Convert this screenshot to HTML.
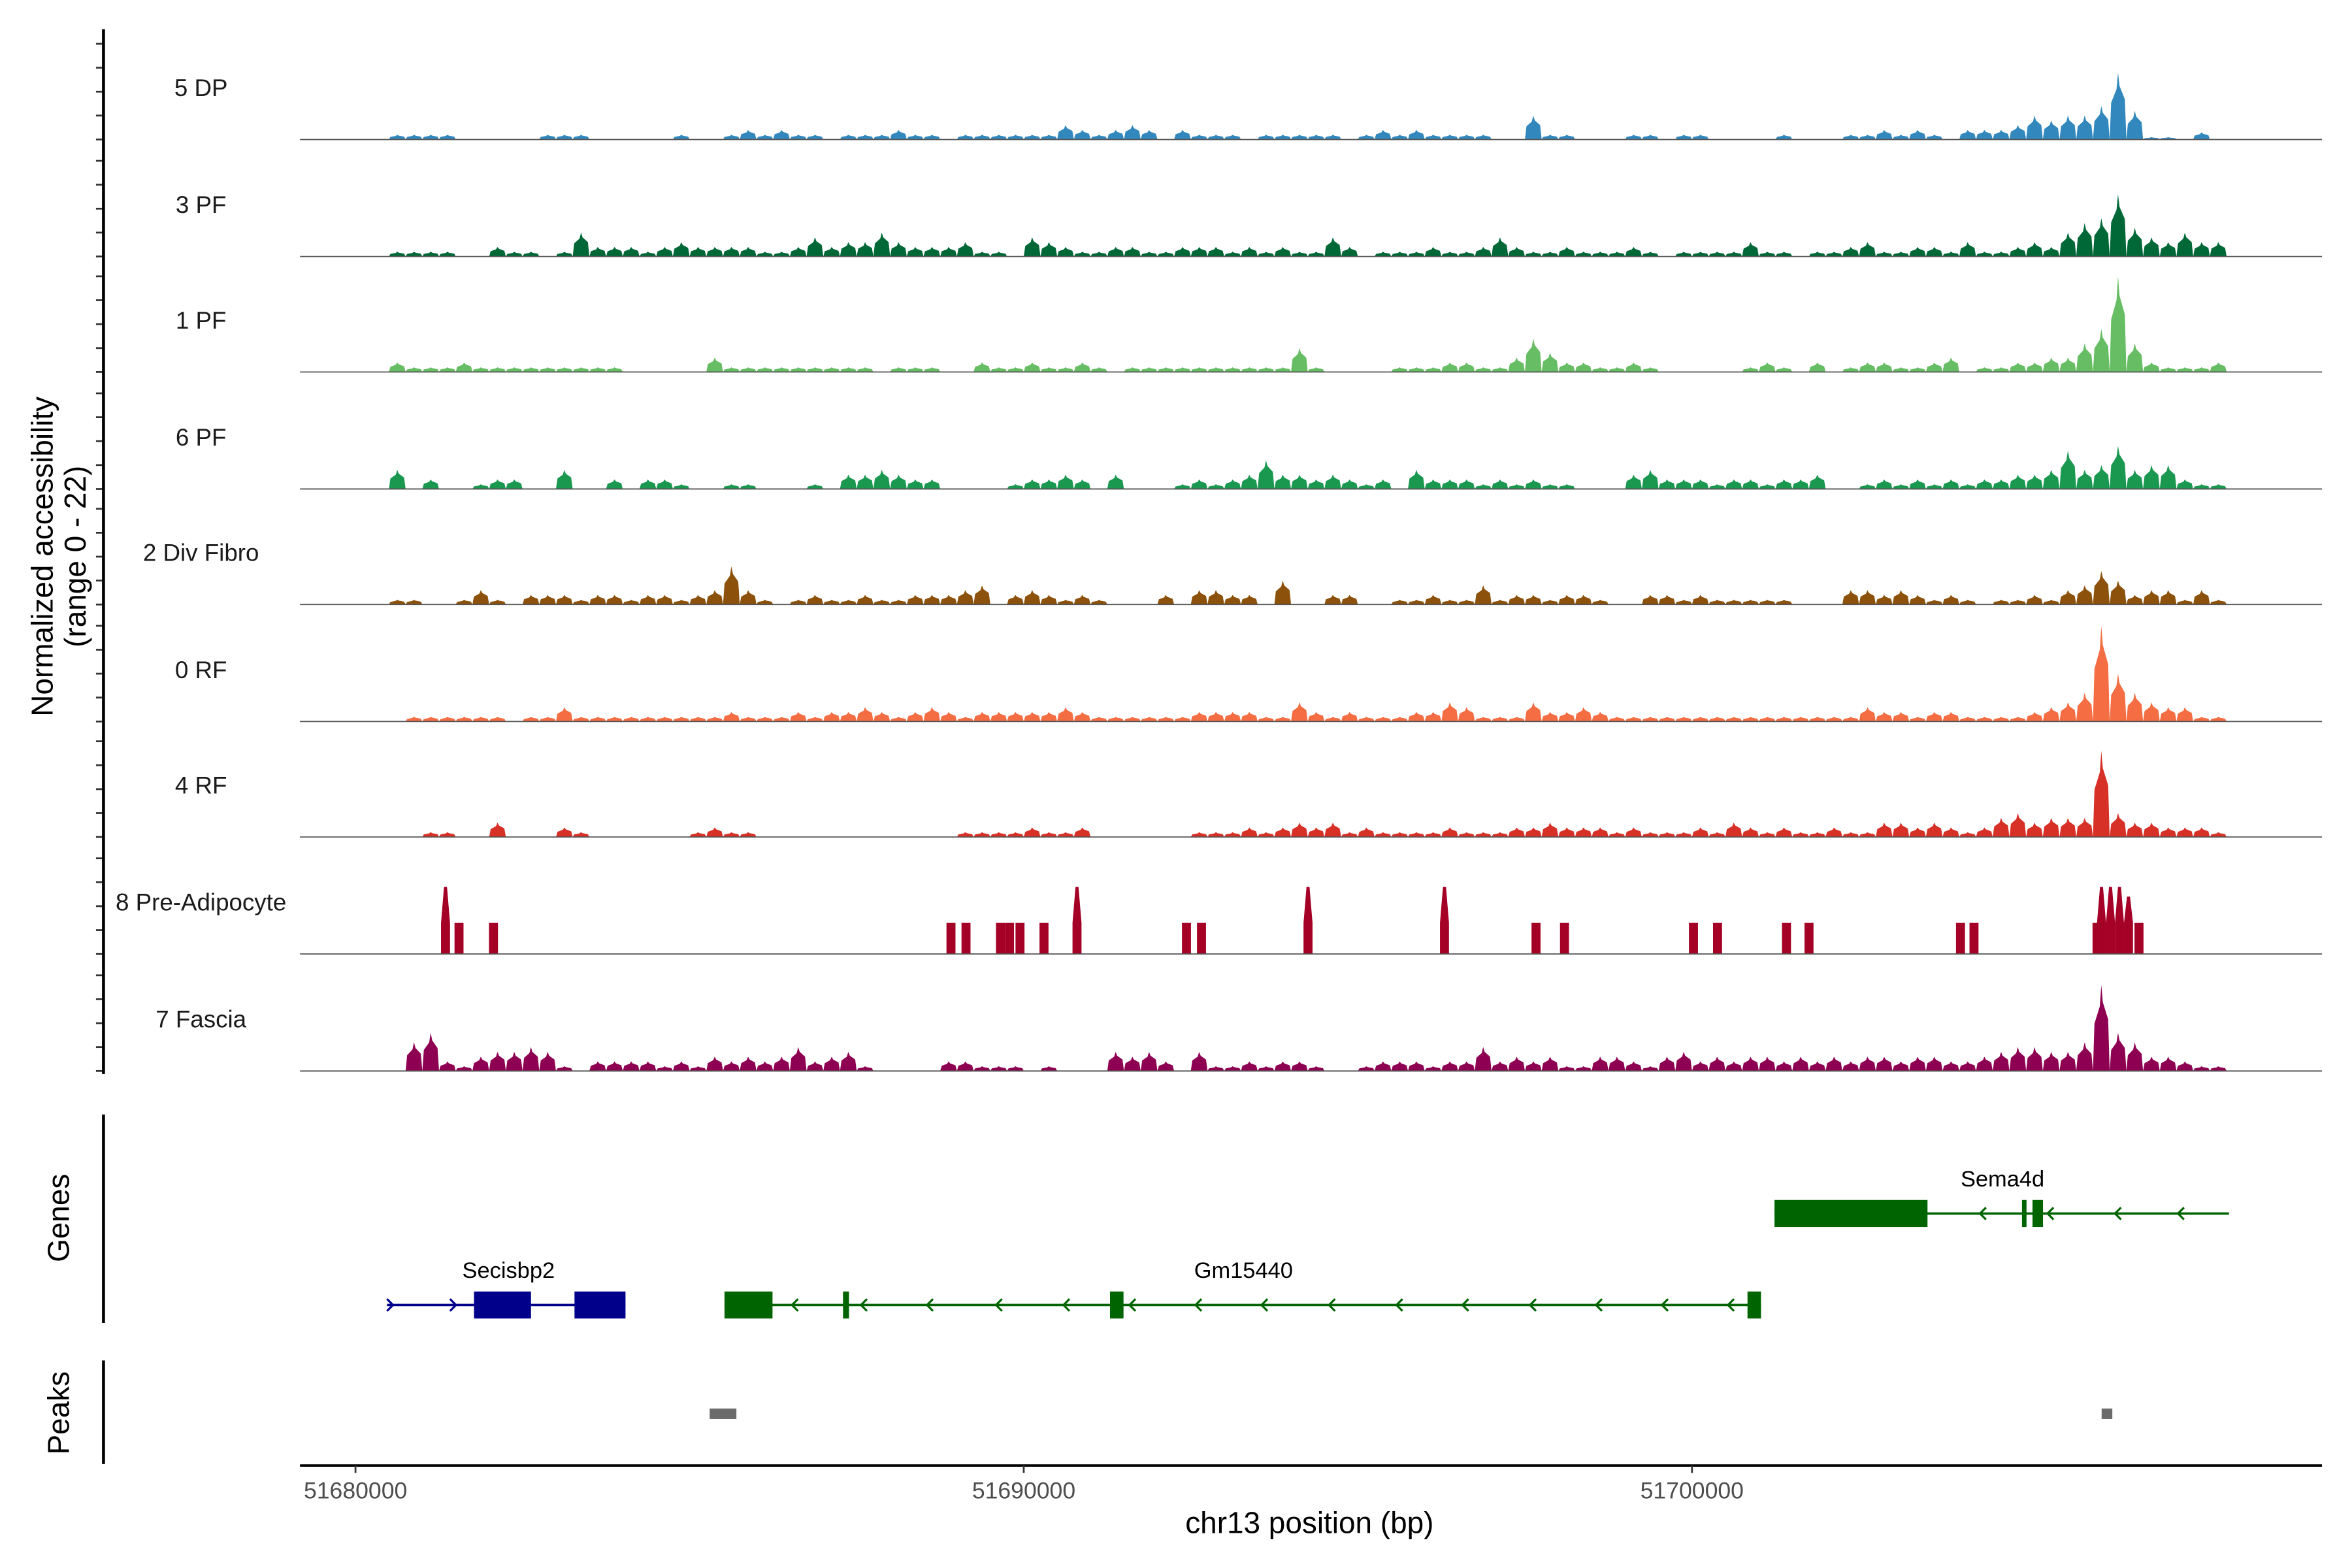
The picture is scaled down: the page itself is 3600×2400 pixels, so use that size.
<!DOCTYPE html>
<html><head><meta charset="utf-8"><style>
html,body{margin:0;padding:0;background:#fff;}
svg{display:block;font-family:"Liberation Sans",Arial,sans-serif;}
</style></head><body>
<svg id="chart" width="3600" height="2400" viewBox="0 0 1568 1045.33" xmlns="http://www.w3.org/2000/svg">
<rect x="0" y="0" width="1568" height="1046" fill="#fff"/>
<g id="tracks"></g>
<g id="genes"></g>
<g id="peaks"></g>
<g id="axes"></g>
</svg>
<script>
const binStart = 51680500;
const binSize = 250;
const trackNames = ["5 DP","3 PF","1 PF","6 PF","2 Div Fibro","0 RF","4 RF","8 Pre-Adipocyte","7 Fascia"];
const trackColors = ["#3288bd","#006837","#66bd63","#1a9850","#8c510a","#f46d43","#d73027","#a50026","#8e0152"];
const dp5 = [1,1,1,1,0,0,0,0,0,1, 1,1,0,0,0,0,0,1,0,0, 1,2,1,2,1,1,0,1,1,1, 2,1,1,0,1,1,1,1,1,1, 3,2,1,2,3,2,0,2,1,1, 1,0,1,1,1,1,1,0,1,2, 1,2,1,1,1,1,0,0,5,1, 1,0,0,0,1,1,0,1,1,0, 0,0,0,1,0,0,0,1,1,2, 1,2,1,0,2,2,2,3,5,4, 5,5,7,14,6,0.5,0.5,0,1.5,0];
const pf3 = [1,1,1,1,0,0,2,1,1,0, 1,5,2,2,2,1,2,3,2,2, 2,2,1,1,2,4,2,3,3,5, 3,2,2,2,3,1,1,0,4,3, 2,1,1,2,2,1,1,2,2,2, 1,2,1,2,1,1,4,2,0,1, 1,1,2,1,1,2,4,2,1,1, 2,1,1,1,2,1,0,1,1,1, 1,3,1,1,0,1,1,2,3,1, 1,2,2,1,3,1,1,2,3,2, 5,7,8,13,6,4,3,5,3,3];
const pf1 = [2,1,1,1,2,1,1,1,1,1, 1,1,1,1,0,0,0,0,0,3, 1,1,1,1,1,1,1,1,1,0, 1,1,1,0,0,2,1,1,2,1, 1,2,1,0,1,1,1,1,1,1, 1,1,1,1,5,1,0,0,0,0, 1,1,1,2,2,1,1,3,7,4, 2,2,1,1,2,1,0,0,0,0, 0,1,2,1,0,2,0,1,2,2, 1,1,2,3,0,1,1,2,2,3, 3,6,9,20,6,2,1,1,1,2];
const pf6 = [4,0,2,0,0,1,2,2,0,0, 4,0,0,2,0,2,2,1,0,0, 1,1,0,0,0,1,0,3,3,4, 3,2,2,0,0,0,0,1,2,2, 3,2,0,3,0,0,0,1,2,1, 2,3,6,3,3,2,3,2,1,2, 0,4,2,2,2,1,2,1,2,1, 1,0,0,0,3,4,2,2,2,1, 2,2,1,2,2,3,0,0,1,2, 1,2,1,2,1,2,2,3,3,4, 8,4,5,9,4,5,5,2,1,1];
const divFibro2 = [1,1,0,0,1,3,1,0,2,2, 2,1,2,2,1,2,2,1,2,3, 8,3,1,0,1,2,1,1,2,1, 1,2,2,2,3,4,0,2,3,2, 1,2,1,0,0,0,2,0,3,3, 2,2,0,5,0,0,2,2,0,0, 1,1,2,1,1,4,1,2,2,1, 2,2,1,0,0,2,2,1,2,1, 1,1,1,1,0,0,0,3,3,2, 3,2,1,2,1,0,1,1,2,1, 3,4,7,5,2,3,3,1,3,1];
const rf0 = [0,1,1,1,1,1,1,0,1,1, 3,1,1,1,1,1,1,1,1,1, 2,1,1,1,2,1,2,2,3,2, 1,2,3,2,1,2,2,2,2,2, 3,2,1,1,1,1,1,1,2,2, 2,2,1,1,4,2,1,2,1,1, 1,2,2,4,3,1,1,1,4,2, 2,3,2,1,1,1,1,1,1,1, 1,1,1,1,1,1,1,1,3,2, 2,1,2,2,1,1,1,1,2,3, 4,6,20,10,6,4,3,3,1,1];
const rf4 = [0,0,1,1,0,0,3,0,0,0, 2,1,0,0,0,0,0,0,1,2, 1,1,0,0,0,0,0,0,0,0, 0,0,0,0,1,1,1,1,2,1, 1,2,0,0,0,0,0,0,1,1, 1,2,1,2,3,2,3,1,2,1, 1,1,1,2,1,1,1,2,2,3, 2,2,2,1,2,1,1,1,2,1, 3,2,1,2,1,1,2,1,1,3, 3,2,3,2,1,2,4,5,3,4, 4,4,18,5,3,3,2,2,2,1];
const fascia7 = [0,6,8,2,1,3,4,4,5,4, 1,0,2,2,2,2,1,2,1,3, 2,3,2,3,5,2,3,4,1,0, 0,0,0,2,2,1,1,1,0,1, 0,0,0,4,3,4,2,0,4,1, 1,2,1,2,2,1,0,0,1,2, 2,2,1,2,2,5,2,3,2,3, 1,1,3,3,2,1,3,4,2,3, 2,3,3,2,3,2,3,2,3,3, 2,3,3,2,2,3,4,5,5,4, 4,6,18,8,6,3,3,2,1,1];
const preAdipoPos = [51681347,51681549,51682065,51688911,51689136,51689652,51689787,51689944,51690303,51690797,51692435,51692660,51694254,51696296,51697666,51698092,51700022,51700382,51701414,51701751,51704018,51704220,51706061,51706128,51706263,51706397,51706532,51706689];
const preAdipoVal = [14,6.5,6.5,6.5,6.5,6.5,6.5,6.5,6.5,14,6.5,6.5,14,14,6.5,6.5,6.5,6.5,6.5,6.5,6.5,6.5,6.5,14,14,14,12,6.5];
const xTicks = [51680000,51690000,51700000];
const yTickVals = [0,5,10,15,20];
const peakStart = [51685300,51706130];
const peakEnd = [51685700,51706290];

const NS="http://www.w3.org/2000/svg";
const X0=237, PXKB=44.55;
function xs(bp){return X0+(bp-51680000)/1000*PXKB;}
const UNIT=3.19;
function mk(tag,attrs,parent){const e=document.createElementNS(NS,tag);for(const k in attrs)e.setAttribute(k,attrs[k]);parent.appendChild(e);return e;}
const tracksG=document.getElementById('tracks');
const axesG=document.getElementById('axes');
const baselines=[93,171,248,326,403,481,558,636,714];
const series=[dp5,pf3,pf1,pf6,divFibro2,rf0,rf4,null,fascia7];
baselines.forEach((b,t)=>{
  const g=mk('g',{},tracksG);
  
  
  const col=trackColors[t];
  if(series[t]){
    series[t].forEach((v,i)=>{
      if(v<=0)return;
      const x0=xs(binStart+i*binSize), x1=xs(binStart+(i+1)*binSize), xc=(x0+x1)/2, h=v*UNIT;
      const p=mk('polygon',{points:`${x0},${b} ${x0+1},${b-h*0.55} ${xc-1},${b-h*0.75} ${xc},${b-h} ${xc+1},${b-h*0.8} ${x1-1},${b-h*0.6} ${x1},${b}`,fill:col},g);
      
      
    });
  } else {
    preAdipoPos.forEach((pos,i)=>{
      const xc=xs(pos), h=preAdipoVal[i]*UNIT, body=Math.min(h,6.5*UNIT), w=3;
      const p=mk('polygon',{points:`${xc-w},${b} ${xc-w},${b-body} ${xc-1},${b-h} ${xc+1},${b-h} ${xc+w},${b-body} ${xc+w},${b}`,fill:col},g);
      
      
    });
  }
  const bl=mk('line',{x1:200,x2:1548,y1:b,y2:b,stroke:'#555','stroke-width':0.8},g);
  
  
  const lb=mk('text',{x:134,y:b-29,'font-size':16,'text-anchor':'middle',fill:'#1a1a1a'},g);
  lb.textContent=trackNames[t];
  
  
  yTickVals.forEach(v=>{
    const tk=mk('line',{x1:64,x2:69,y1:b-v*UNIT,y2:b-v*UNIT,stroke:'#333','stroke-width':1.2},axesG);
    
    
  });
});
[[19.5,716],[743,882],[907,976]].forEach(([a,c])=>{
  const l=mk('line',{x1:69,x2:69,y1:a,y2:c,stroke:'#000','stroke-width':2},axesG);
  
  
});
const xl=mk('line',{x1:200,x2:1548,y1:977,y2:977,stroke:'#000','stroke-width':1.6},axesG);


xTicks.forEach(v=>{
  const tk=mk('line',{x1:xs(v),x2:xs(v),y1:977,y2:982,stroke:'#333','stroke-width':1.2},axesG);
  
  
  const tl=mk('text',{x:xs(v),y:999,'font-size':15.5,'text-anchor':'middle',fill:'#4d4d4d'},axesG);
  tl.textContent=String(v);
  
  
});
const genesG=document.getElementById('genes');
function geneLine(x1,x2,y,col){const l=mk('line',{x1:x1,x2:x2,y1:y,y2:y,stroke:col,'stroke-width':1.6},genesG);}
function exon(x1,x2,y,col){const r=mk('rect',{x:x1,y:y-9,width:x2-x1,height:18,fill:col},genesG);}
function arrow(x,y,dir,col){const p=mk('polyline',{points:dir<0?`${x+4},${y-4} ${x},${y} ${x+4},${y+4}`:`${x-4},${y-4} ${x},${y} ${x-4},${y+4}`,fill:'none',stroke:col,'stroke-width':1.4},genesG);}
function glabel(x,y,t){const e=mk('text',{x:x,y:y,'font-size':15,'text-anchor':'middle',fill:'#000'},genesG);e.textContent=t;}
const G='#006400', B='#00008b';
geneLine(1183,1486,809,G);exon(1183,1285,809,G);exon(1348,1351,809,G);exon(1355,1362,809,G);
[1320,1365,1410,1452].forEach(x=>arrow(x,809,-1,G));glabel(1335,791,'Sema4d');
geneLine(258,417,870,B);exon(316,354,870,B);exon(383,417,870,B);
[262,304].forEach(x=>arrow(x,870,1,B));glabel(339,852,'Secisbp2');
geneLine(483,1174,870,G);exon(483,515,870,G);exon(562,566,870,G);exon(740,749,870,G);exon(1165,1174,870,G);
[528,574,618,664,709,753,797,841,886,931,975,1020,1064,1108,1152].forEach(x=>arrow(x,870,-1,G));glabel(829,852,'Gm15440');
const peaksG=document.getElementById('peaks');
peakStart.forEach((s,i)=>{
  const r=mk('rect',{x:xs(s),y:939,width:Math.max(xs(peakEnd[i])-xs(s),6),height:7,fill:'#6b6b6b'},peaksG);
  
  
});
function title(x,y,t,size,rot){const e=mk('text',{x:x,y:y,'font-size':size,'text-anchor':'middle',fill:'#000',transform:rot?`rotate(-90 ${x} ${y})`:''},axesG);e.textContent=t;return e;}
let e=title(35,371,'Normalized accessibility',20,true);
e=title(57,371,'(range 0 - 22)',20,true);
e=title(46,812,'Genes',20,true);
e=title(46,942,'Peaks',20,true);
e=title(873,1022,'chr13 position (bp)',20,false);
</script>
</body></html>
